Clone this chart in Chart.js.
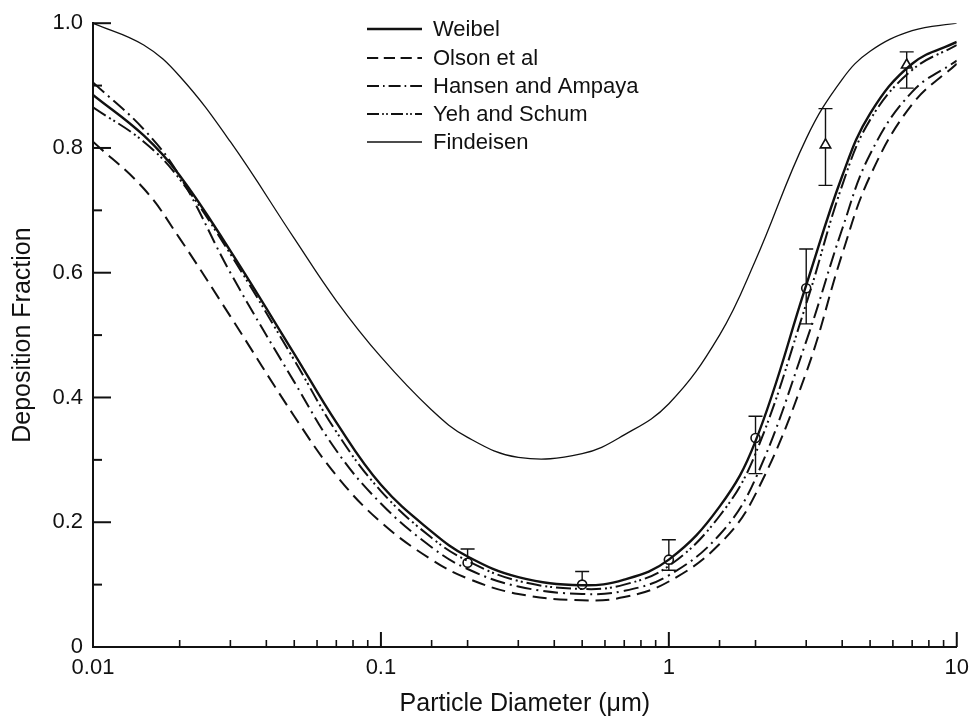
<!DOCTYPE html>
<html>
<head>
<meta charset="utf-8">
<title>Deposition Fraction</title>
<script src="https://cdn.jsdelivr.net/npm/chart.js@4"></script>
<style>
  html, body { margin: 0; padding: 0; background: #fff; }
  #wrap { width: 977px; height: 721px; position: relative; }
</style>
</head>
<body>
<div id="wrap"><canvas id="myChart"></canvas></div>
<script>
// particle diameters (um) where the curves were read
const diameters = [0.01, 0.015, 0.02, 0.03, 0.05, 0.07, 0.1, 0.15, 0.2, 0.3, 0.5, 0.7, 1, 1.5, 2, 3, 4, 5, 7, 10];

const weibel   = [0.885, 0.82, 0.756, 0.635, 0.47, 0.36, 0.26, 0.185, 0.145, 0.112, 0.099, 0.108, 0.14, 0.225, 0.33, 0.58, 0.755, 0.855, 0.935, 0.97];
const olson    = [0.81, 0.735, 0.655, 0.53, 0.37, 0.275, 0.2, 0.14, 0.11, 0.085, 0.075, 0.08, 0.105, 0.165, 0.245, 0.44, 0.63, 0.755, 0.87, 0.935];
const hansen   = [0.905, 0.83, 0.755, 0.6, 0.425, 0.315, 0.23, 0.16, 0.125, 0.097, 0.085, 0.09, 0.115, 0.18, 0.27, 0.49, 0.67, 0.79, 0.89, 0.94];
const yeh      = [0.865, 0.81, 0.75, 0.63, 0.46, 0.345, 0.25, 0.175, 0.138, 0.106, 0.093, 0.1, 0.13, 0.21, 0.31, 0.55, 0.74, 0.845, 0.925, 0.965];
const findeisen = [1.0, 0.965, 0.915, 0.81, 0.655, 0.555, 0.465, 0.38, 0.336, 0.304, 0.31, 0.34, 0.39, 0.5, 0.62, 0.815, 0.91, 0.955, 0.988, 1.0];

const seriesNames = ["Weibel", "Olson et al", "Hansen and Ampaya", "Yeh and Schum", "Findeisen"];

// measured points with error bars
const pointDiam  = [0.2, 0.5, 1.0, 2.0, 3.0, 3.5, 6.7];
const pointMean  = [0.135, 0.1, 0.14, 0.335, 0.575, 0.805, 0.933];
const pointHigh  = [0.157, 0.121, 0.172, 0.37, 0.638, 0.863, 0.954];
const pointLow   = [0.135, 0.1, 0.123, 0.278, 0.518, 0.74, 0.896];
const pointShape = ["circle", "circle", "circle", "circle", "circle", "triangle", "triangle"];

const xTickLabels = ["0.01", "0.1", "1", "10"];
const yTickLabels = ["0", "0.2", "0.4", "0.6", "0.8", "1.0"];

const FONT = "'Liberation Sans', Arial, sans-serif";
const INK = "#111";

const styles = [
  { width: 2.4, dash: [] },
  { width: 2, dash: [14, 7] },
  { width: 2, dash: [15, 5, 2, 5] },
  { width: 2, dash: [15, 4, 2, 3, 2, 4] },
  { width: 1.3, dash: [] }
];

const seriesValues = [weibel, olson, hansen, yeh, findeisen];

const lineSets = seriesValues.map((vals, i) => ({
  type: "line",
  label: seriesNames[i],
  data: diameters.map((d, j) => ({ x: d, y: vals[j] })),
  borderColor: INK,
  borderWidth: styles[i].width,
  borderDash: styles[i].dash,
  pointRadius: 0,
  fill: false,
  tension: 0.4
}));

const pointSet = {
  type: "scatter",
  label: "data",
  data: pointDiam.map((d, j) => ({ x: d, y: pointMean[j] })),
  pointStyle: pointShape,
  pointRadius: pointShape.map(s => s === "triangle" ? 6 : 4.5),
  backgroundColor: "#fff",
  borderColor: INK,
  borderWidth: 1.6
};

// inward ticks, error bars and the legend box
const decorPlugin = {
  id: "decor",
  beforeDatasetsDraw(chart) {
    const ctx = chart.ctx;
    const xs = chart.scales.x, ys = chart.scales.y;
    const area = chart.chartArea;
    ctx.save();
    ctx.strokeStyle = INK;
    ctx.lineCap = "butt";
    // x ticks
    xs.ticks.forEach(t => {
      const v = t.value;
      const major = Math.abs(Math.log10(v) - Math.round(Math.log10(v))) < 1e-6;
      const px = xs.getPixelForValue(v);
      ctx.lineWidth = major ? 2 : 1.6;
      ctx.beginPath();
      ctx.moveTo(px, area.bottom);
      ctx.lineTo(px, area.bottom - (major ? 15 : 7));
      ctx.stroke();
    });
    // y ticks
    ys.ticks.forEach(t => {
      const v = t.value;
      const major = Math.round(v * 10) % 2 === 0;
      const py = ys.getPixelForValue(v);
      ctx.lineWidth = 2;
      ctx.beginPath();
      ctx.moveTo(area.left, py);
      ctx.lineTo(area.left + (major ? 18 : 9), py);
      ctx.stroke();
    });
    // error bars
    ctx.lineWidth = 1.4;
    pointDiam.forEach((d, j) => {
      const px = xs.getPixelForValue(d);
      const hi = ys.getPixelForValue(pointHigh[j]);
      const lo = ys.getPixelForValue(pointLow[j]);
      ctx.beginPath();
      ctx.moveTo(px, hi);
      ctx.lineTo(px, lo);
      ctx.moveTo(px - 7, hi);
      ctx.lineTo(px + 7, hi);
      if (pointLow[j] < pointMean[j]) {
        ctx.moveTo(px - 7, lo);
        ctx.lineTo(px + 7, lo);
      }
      ctx.stroke();
    });
    ctx.restore();
  },
  afterDraw(chart) {
    const ctx = chart.ctx;
    const rows = [29, 58, 86, 114, 142];
    ctx.save();
    ctx.strokeStyle = INK;
    ctx.fillStyle = INK;
    ctx.font = "22px " + FONT;
    ctx.textBaseline = "middle";
    seriesNames.forEach((name, i) => {
      ctx.lineWidth = styles[i].width;
      ctx.setLineDash(styles[i].dash.map(v => v * 0.8));
      ctx.beginPath();
      ctx.moveTo(367, rows[i]);
      ctx.lineTo(422, rows[i]);
      ctx.stroke();
      ctx.setLineDash([]);
      ctx.fillText(name, 433, rows[i] + 1);
    });
    ctx.restore();
  }
};

new Chart(document.getElementById("myChart").getContext("2d"), {
  data: { datasets: [...lineSets, pointSet] },
  options: {
    responsive: true,
    maintainAspectRatio: false,
    animation: false,
    devicePixelRatio: 1,
    layout: { padding: { top: 20, right: 13, left: 0, bottom: 0 } },
    plugins: { legend: { display: false }, tooltip: { enabled: false } },
    scales: {
      x: {
        type: "logarithmic",
        min: 0.01,
        max: 10,
        afterFit(scale) { scale.height = 74; },
        grid: { drawOnChartArea: false, drawTicks: false },
        border: { display: true, color: INK, width: 2 },
        ticks: {
          autoSkip: false,
          maxRotation: 0,
          padding: 8,
          color: INK,
          font: { family: FONT, size: 22 },
          callback(v) {
            const s = String(Number(Number(v).toPrecision(3)));
            return xTickLabels.includes(s) ? s : "";
          }
        },
        title: {
          display: true,
          text: "Particle Diameter (\u03bcm)",
          color: INK,
          font: { family: FONT, size: 25, lineHeight: 1 },
          padding: { top: 0, bottom: 4 }
        }
      },
      y: {
        min: 0,
        max: 1,
        afterFit(scale) { scale.width = 93; },
        grid: { drawOnChartArea: false, drawTicks: false },
        border: { display: true, color: INK, width: 2 },
        ticks: {
          stepSize: 0.1,
          autoSkip: false,
          padding: 10,
          color: INK,
          font: { family: FONT, size: 22 },
          callback(v) {
            const s = Math.abs(v) < 1e-9 ? "0" : Number(v).toFixed(1);
            return yTickLabels.includes(s) ? s : "";
          }
        },
        title: {
          display: true,
          text: "Deposition Fraction",
          color: INK,
          font: { family: FONT, size: 25, lineHeight: 1 },
          padding: { top: 11, bottom: 0 }
        }
      }
    }
  },
  plugins: [decorPlugin]
});
</script>
</body>
</html>
